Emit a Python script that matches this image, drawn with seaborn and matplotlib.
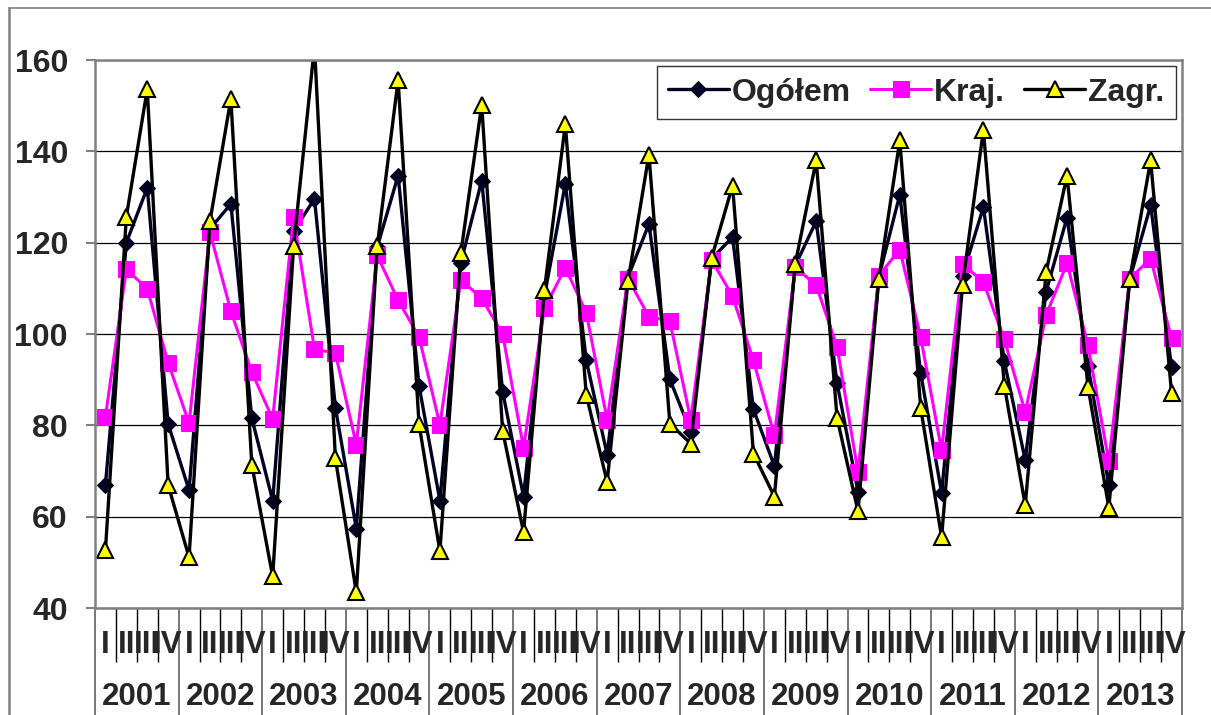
import numpy as np
import pandas as pd
import seaborn as sns
from matplotlib import pyplot as plt
from matplotlib.lines import Line2D
import matplotlib.transforms as mtransforms

years = [str(y) for y in range(2001, 2014)]
quarters = ['I', 'II', 'III', 'IV']

ogolem = [67, 120, 132, 80.3,
          65.8, 123, 128.5, 81.6,
          63.5, 122.5, 129.6, 83.9,
          57.4, 119, 134.7, 88.7,
          63.5, 115.6, 133.6, 87.4,
          64.4, 108.3, 132.9, 94.3,
          73.6, 112.5, 124.1, 90.1,
          78.5, 116.5, 121.2, 83.5,
          71.1, 115, 124.7, 89.2,
          65.5, 112.5, 130.5, 91.4,
          65.2, 112.8, 127.8, 94.0,
          72.4, 109.3, 125.5, 93.1,
          66.9, 112, 128.2, 92.7]

kraj = [81.9, 114.2, 109.9, 93.7,
        80.5, 122.3, 105, 91.7,
        81.4, 125.7, 96.7, 95.8,
        75.8, 117.2, 107.4, 99.4,
        80.1, 111.9, 107.8, 100,
        75.1, 105.6, 114.5, 104.7,
        81.2, 112.1, 103.8, 102.8,
        81.2, 116.2, 108.3, 94.2,
        77.8, 114.6, 110.7, 97.2,
        69.8, 112.8, 118.5, 99.3,
        74.5, 115.3, 111.4, 98.8,
        82.9, 104.1, 115.5, 97.6,
        72.1, 112.1, 116.5, 99.1]

zagr = [52.7, 125.7, 153.6, 66.9,
        51.1, 124.7, 151.5, 71.4,
        46.9, 119.2, 163, 72.8,
        43.4, 119.2, 155.6, 80.3,
        52.4, 117.7, 150.2, 78.8,
        56.6, 109.7, 145.9, 86.7,
        67.6, 111.6, 139.3, 80.4,
        76, 116.7, 132.5, 73.8,
        64.4, 115.4, 138, 81.6,
        61.2, 112.1, 142.4, 83.8,
        55.5, 110.7, 144.7, 88.7,
        62.5, 113.6, 134.7, 88.5,
        62.0, 112.1, 138.0, 87.1]

sns.set_theme(style='white')
plt.rcParams['font.family'] = ['Liberation Sans', 'DejaVu Sans']
plt.rcParams['font.weight'] = 'bold'

n = len(ogolem)
df = pd.DataFrame({'x': np.arange(n), 'Ogółem': ogolem, 'Kraj.': kraj, 'Zagr.': zagr})

fig = plt.figure(figsize=(12.11, 7.15), dpi=100)
ax = fig.add_axes([95 / 1211, 1 - 608 / 715, (1182 - 95) / 1211, (608 - 60) / 715])

sns.lineplot(data=df, x='x', y='Ogółem', ax=ax, color='#000022', lw=2.4,
             marker='D', markersize=8, markeredgecolor='#000022', label='Ogółem')
sns.lineplot(data=df, x='x', y='Kraj.', ax=ax, color='#ff00ff', lw=2.2,
             marker='s', markersize=12, markeredgecolor='#ff00ff', label='Kraj.')
sns.lineplot(data=df, x='x', y='Zagr.', ax=ax, color='black', lw=2.4,
             marker='^', markersize=11.5, markerfacecolor='#ffff00',
             markeredgecolor='black', markeredgewidth=1.5, label='Zagr.')

ax.set_xlim(-0.5, n - 0.5)
ax.set_ylim(40, 160)
ax.set_yticks(range(40, 161, 20))
ax.yaxis.grid(True, color='black', lw=0.9)
ax.set_xlabel('')
ax.set_ylabel('')
for s in ax.spines.values():
    s.set_color('#808080')
    s.set_linewidth(1.8)

ax.tick_params(axis='y', labelsize=23, length=6.5, width=1.5, color='#808080',
               direction='out', pad=13, left=True)
for t in ax.get_yticklabels():
    t.set_fontweight('bold')

ax.set_xticks(np.arange(-0.5, n, 4))
ax.set_xticks(np.arange(-0.5, n, 1), minor=True)
ax.set_xticklabels([])
ax.tick_params(axis='x', which='major', length=77, width=1.2, color='#606060',
               direction='out', bottom=True)
ax.tick_params(axis='x', which='minor', length=39, width=1, color='black',
               direction='out', bottom=True)

# quarter and year labels under the axis
trans = mtransforms.blended_transform_factory(ax.transData, ax.transAxes)
for i in range(n):
    ax.text(i, -0.0675, quarters[i % 4], transform=trans, ha='center', va='center',
            fontsize=22.5, fontweight='bold', clip_on=False)
for j, yr in enumerate(years):
    ax.text(j * 4 + 1.5, -0.162, yr, transform=trans, ha='center', va='center',
            fontsize=22.5, fontweight='bold', clip_on=False)

leg = ax.legend(loc='upper right', ncol=3, fontsize=23, frameon=True, fancybox=False,
                edgecolor='black', handlelength=1.9, columnspacing=0.6,
                handletextpad=0.1, borderaxespad=0.2, borderpad=0.35)
leg.get_frame().set_linewidth(1)
for t in leg.get_texts():
    t.set_fontweight('bold')

fig.add_artist(Line2D([9 / 1211, 9 / 1211], [0, 1 - 8 / 715], transform=fig.transFigure,
                      color='#808080', lw=1.8))
fig.add_artist(Line2D([9 / 1211, 1], [1 - 8 / 715, 1 - 8 / 715], transform=fig.transFigure,
                      color='#808080', lw=1.2))

fig.savefig('out.png', dpi=100)
